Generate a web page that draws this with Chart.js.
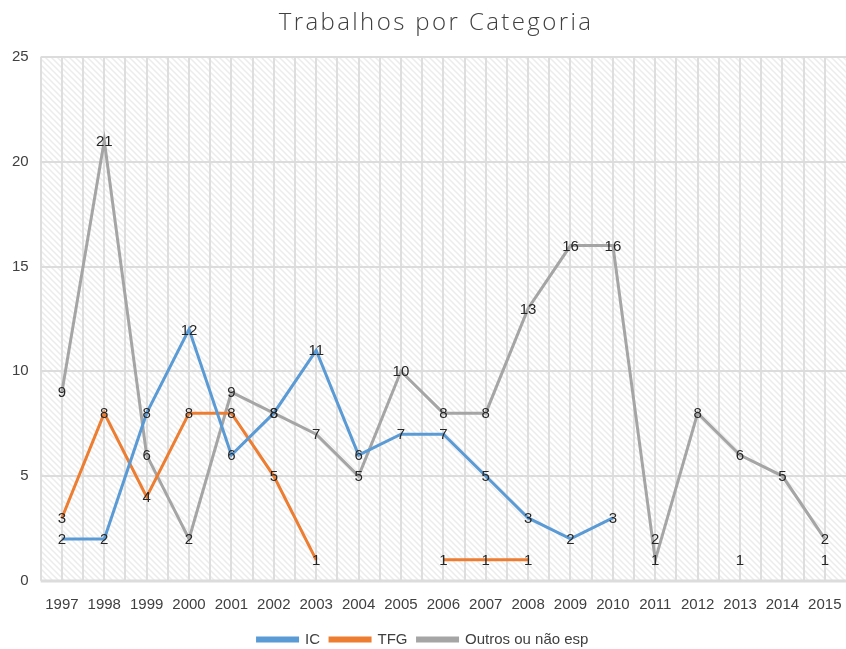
<!DOCTYPE html>
<html>
<head>
<meta charset="utf-8">
<script src="https://cdn.jsdelivr.net/npm/chart.js@4.4.1/dist/chart.umd.min.js"></script>
<style>
  html, body { margin: 0; padding: 0; background: #fff; overflow: hidden; }
  canvas { display: block; }
</style>
</head>
<body>
<!-- canvas a little taller than the window so the legend sits near the visible bottom edge -->
<canvas id="chart1" width="846" height="657"></canvas>
<script>
// ------------------------------- DATA

var years = ['1997','1998','1999','2000','2001','2002','2003','2004','2005','2006',
             '2007','2008','2009','2010','2011','2012','2013','2014','2015']

var icVals = [2, 2, 8, 12, 6, 8, 11, 6, 7, 7, 5, 3, 2, 3, null, null, null, null, null]
var tfgVals = [3, 8, 4, 8, 8, 5, 1, null, null, 1, 1, 1, null, null, 2, null, 1, null, 1]
var outrosVals = [9, 21, 6, 2, 9, 8, 7, 5, 10, 8, 8, 13, 16, 16, 1, 8, 6, 5, 2]

var yTicks = [0, 5, 10, 15, 20, 25]

var titleText = 'Trabalhos por Categoria'

// ------------------------------- PLUGINS

function hatch(ctx){
    let c = document.createElement('canvas')
    c.width = 6
    c.height = 6
    let p = c.getContext('2d')
    p.fillStyle = '#ffffff'
    p.fillRect(0,0,6,6)
    p.strokeStyle = '#ececec'
    p.lineWidth = 1.5
    p.beginPath()
    p.moveTo(-1,-1); p.lineTo(7,7)
    p.moveTo(-4,2); p.lineTo(4,10)
    p.moveTo(2,-4); p.lineTo(10,4)
    p.stroke()
    return ctx.createPattern(c,'repeat')
}

var backdrop = {
    id: 'backdrop',
    beforeDatasetsDraw: (chart) => {
        let ctx = chart.ctx
        let a = chart.chartArea
        let xs = chart.scales.x
        let ys = chart.scales.y
        ctx.save()
        ctx.fillStyle = hatch(ctx)
        ctx.fillRect(a.left, a.top, a.right-a.left, a.bottom-a.top)
        // vertical lines at every category center and boundary
        ctx.strokeStyle = '#dedede'
        ctx.lineWidth = 2
        let half = (xs.getPixelForValue(1) - xs.getPixelForValue(0)) / 2
        for(let i=0; i<years.length; i++){
            let cx = xs.getPixelForValue(i)
            for(let x of [cx-half, cx]){
                ctx.beginPath()
                ctx.moveTo(Math.round(x), a.top)
                ctx.lineTo(Math.round(x), a.bottom)
                ctx.stroke()
            }
        }
        // horizontal lines
        for(let t of yTicks){
            let y = Math.round(ys.getPixelForValue(t))
            ctx.strokeStyle = '#dcdcdc'
            ctx.lineWidth = t == 0 ? 3 : 2
            ctx.beginPath()
            ctx.moveTo(a.left, y)
            ctx.lineTo(a.right, y)
            ctx.stroke()
        }
        ctx.restore()
    }
}

var valueLabels = {
    id: 'valueLabels',
    afterDatasetsDraw: (chart) => {
        let ctx = chart.ctx
        ctx.save()
        ctx.font = '15px "Liberation Sans", sans-serif'
        ctx.fillStyle = '#262626'
        ctx.textAlign = 'center'
        ctx.textBaseline = 'middle'
        chart.data.datasets.forEach((ds, i) => {
            let meta = chart.getDatasetMeta(i)
            meta.data.forEach((pt, j) => {
                if(ds.data[j] == null) return
                ctx.fillText(String(ds.data[j]), pt.x, pt.y + 1)
            })
        })
        ctx.restore()
    }
}

// title drawn by hand so it can be letter-spaced like the original
var bigTitle = {
    id: 'bigTitle',
    afterDraw: (chart) => {
        let ctx = chart.ctx
        ctx.save()
        ctx.font = '300 24px "Open Sans", sans-serif'
        ctx.letterSpacing = '2.4px'
        ctx.fillStyle = '#404040'
        ctx.textAlign = 'center'
        ctx.textBaseline = 'alphabetic'
        ctx.fillText(titleText, 436, 30)
        ctx.restore()
    }
}

// ------------------------------- CHART

var chart = document.getElementById('chart1')
var pop1 = new Chart(chart, {
    type: 'line',
    data: {
        labels: years,
        datasets: [
            {
                label: 'IC',
                data: icVals,
                borderColor: '#5b9bd5',
                backgroundColor: '#5b9bd5',
                borderWidth: 3,
                pointRadius: 0,
                spanGaps: false
            },
            {
                label: 'TFG',
                data: tfgVals,
                borderColor: '#ed7d31',
                backgroundColor: '#ed7d31',
                borderWidth: 3,
                pointRadius: 0,
                spanGaps: false
            },
            {
                label: 'Outros ou não esp',
                data: outrosVals,
                borderColor: '#a5a5a5',
                backgroundColor: '#a5a5a5',
                borderWidth: 3,
                pointRadius: 0,
                spanGaps: false
            }
        ]
    },
    options: {
        responsive: false,
        animation: false,
        layout: {
            padding: {left: 0, right: 0, top: 57, bottom: 0}
        },
        plugins: {
            title: {display: false},
            legend: {
                position: 'bottom',
                labels: {
                    color: '#404040',
                    font: {family: '"Liberation Sans", sans-serif', size: 15},
                    boxWidth: 40,
                    boxHeight: 3,
                    padding: 10
                }
            },
            tooltip: {enabled: false}
        },
        scales: {
            x: {
                offset: true,
                // invisible tick marks only to push the labels down
                grid: {display: true, drawOnChartArea: false, drawTicks: true, tickLength: 15, tickColor: 'rgba(0,0,0,0)'},
                border: {display: false},
                // blank title used as a spacer between the labels and the legend
                title: {display: true, text: ' ', font: {size: 1}, padding: {top: 0, bottom: 7}},
                ticks: {
                    color: '#404040',
                    font: {family: '"Liberation Sans", sans-serif', size: 15},
                    padding: 0,
                    maxRotation: 0,
                    autoSkip: false
                }
            },
            y: {
                min: 0,
                max: 25,
                grid: {display: false, drawTicks: false},
                border: {display: false},
                ticks: {
                    stepSize: 5,
                    color: '#404040',
                    font: {family: '"Liberation Sans", sans-serif', size: 15},
                    padding: 12
                }
            }
        }
    },
    plugins: [backdrop, valueLabels, bigTitle]
})
</script>
</body>
</html>
